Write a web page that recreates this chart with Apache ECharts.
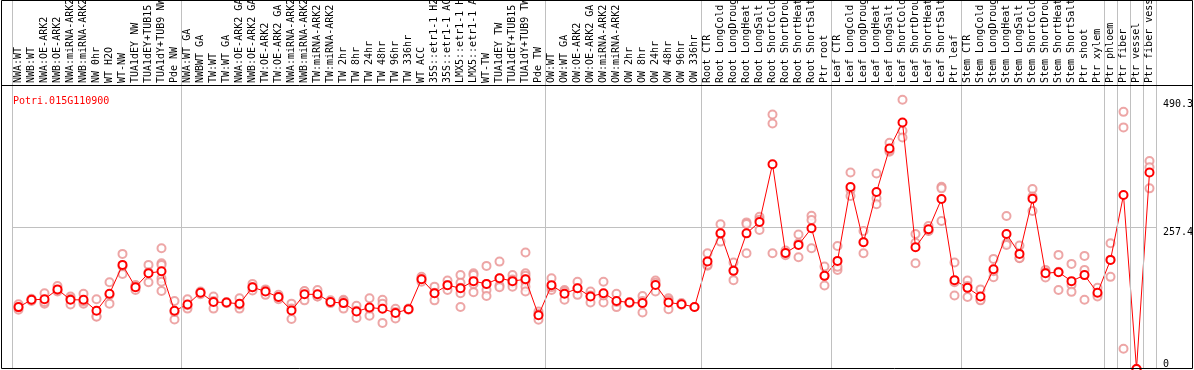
<!DOCTYPE html>
<html>
<head>
<meta charset="utf-8">
<script src="https://cdn.jsdelivr.net/npm/echarts@6/dist/echarts.min.js"></script>
<style>
html,body{margin:0;padding:0;background:#fff;}
#chart{width:1194px;height:370px;}
</style>
</head>
<body>
<div id="chart"></div>
<script>
const title = 'Potri.015G110900';

const categories = [
  'NWA:WT','NWB:WT','NWA:OE-ARK2','NWB:OE-ARK2','NWA:miRNA-ARK2','NWB:miRNA-ARK2','NW 0hr','WT H2O','WT-NW','TUA1dEY NW','TUA1dEY+TUB15 NW','TUA1dY+TUB9 NW','Pde NW',
  'NWA:WT GA','NWBWT GA','TW:WT','TW:WT GA','NWA:OE-ARK2 GA','NWB:OE-ARK2 GA','TW:OE-ARK2','TW:OE-ARK2 GA','NWA:miRNA-ARK2 GA','NWB:miRNA-ARK2 GA','TW:miRNA-ARK2','TW:miRNA-ARK2 GA',
  'TW 2hr','TW 8hr','TW 24hr','TW 48hr','TW 96hr','TW 336hr','WT ACC','35S::etr1-1 H2O','35S::etr1-1 ACC','LMX5::etr1-1 H2O','LMX5::etr1-1 ACC','WT-TW','TUA1dEY TW','TUA1dEY+TUB15 TW','TUA1dY+TUB9 TW','Pde TW',
  'OW:WT','OW:WT GA','OW:OE-ARK2','OW:OE-ARK2 GA','OW:miRNA-ARK2','OW:miRNA-ARK2 GA','OW 2hr','OW 8hr','OW 24hr','OW 48hr','OW 96hr','OW 336hr',
  'Root CTR','Root LongCold','Root LongDrought','Root LongHeat','Root LongSalt','Root ShortCold','Root ShortDrought','Root ShortHeat','Root ShortSalt','Ptr root',
  'Leaf CTR','Leaf LongCold','Leaf LongDrought','Leaf LongHeat','Leaf LongSalt','Leaf ShortCold','Leaf ShortDrought','Leaf ShortHeat','Leaf ShortSalt','Ptr leaf',
  'Stem CTR','Stem LongCold','Stem LongDrought','Stem LongHeat','Stem LongSalt','Stem ShortCold','Stem ShortDrought','Stem ShortHeat','Stem ShortSalt','Ptr shoot','Ptr xylem',
  'Ptr phloem','Ptr fiber','Ptr vessel','Ptr fiber vessel'
];

const means = [
  112.7,126,127,145,126,126,106,137,189.6,149,174.5,178,106,
  117.5,139,122,121,118.7,149,141,131,106.5,136,136,122,
  120,104.7,112,109.6,102,109,163.6,138,152.7,147,160,155,165.4,160,163.6,98,
  152.7,137,147,132,138,124,121,120,153,121,118,113,
  196,247,178.7,247,267.8,373,211.4,226,256.3,169.6,
  196.9,331.4,230.9,322.3,401.7,449,221.8,254.5,309.6,161.8,
  147.8,132,181.8,246,209.6,310,174.5,176.3,160,171,138.7,
  198.7,316.8,0,358
];

const replicates = [
  [118,108,112],[126,124,128],[138,119,122],[151,141,144],[132,117.5,128],[137,119,123],[127,96,95],[158,119,135],[209.6,173,187],[153,144,150],[189.6,158,176],[220,192.7,189.6,165,159,142],[124,90,104],
  [127,110,116],[141,136,140],[132,110,124],[122,120],[129,110,117],[155,143,149],[145,135,143],[135,127,131],[119,91,110],[141,125,142],[144,132,132],[125,120],
  [126,110,124],[115,93,106],[129,97,110],[126,84,119],[109.6,92,104],[110,108],[168,159,164],[150,125,139],[161,144,153],[171,157,148,138,113],[174.5,171,140,155],[187.8,144,133,155],[195.6,152,149,165],[171,156,150,163],[212,174.5,169.6,159,150,141,163],[104.7,89.6,100],
  [165.4,144,149],[144,126,141],[159,135,147],[141,121,134],[159,121,134],[137,112.7,122],[122,120],[133,103,124],[161,141,157],[129,109,125],[120,117],[113],
  [210.9,188,190],[263.6,232,246],[193.8,161.8,180],[267,264,210.9],[277.4,253.2,272],[463.6,447,210.9],[215.6,207,211],[245,203.6,229],[279,271.4,220],[186.5,152,170],
  [224,180.5,186],[358,326,315],[251.4,210.9,231],[356,311,300],[412,395.6,398],[490.3,433.7,421.7],[246,230,192.7],[260.5,251.4,252],[332,329,269.6],[193.8,133.8,158],
  [161,131,151],[145,126,125],[200.5,167,178],[278.7,229,226],[224.7,201.8,202],[327.8,287.8,314],[180.5,166.5,176],[207.8,144,177],[191.4,153,140.5],[206,180.5,126],[136,132,148],
  [229,167.8,199],[468.3,440,36.9],[0,0,0],[378.7,367.2,329]
];

// group boundaries (in category units) for vertical separators
const groupBoundaries = [0,13,41,53,63,73,84,85,86,87,88];

// right axis tick labels
const yTickTop = [257.4, 490.3];
const yTickBottom = [0];
const yGridLine = 257.4;
const yMax = 672;

const scatterData = [];
replicates.forEach((arr, i) => arr.forEach(v => scatterData.push([categories[i], v])));

const font = 'DejaVu Sans Mono';
const chart = echarts.init(document.getElementById('chart'), null, {renderer: 'canvas'});

chart.setOption({
  animation: false,
  backgroundColor: '#ffffff',
  title: {
    text: title, left: 8, top: 91,
    textStyle: {color: '#ff0000', fontFamily: font, fontSize: 10, fontWeight: 'normal'}
  },
  grid: {left: 12, right: 38, top: 0, bottom: 1, containLabel: false, outerBoundsMode: 'none'},
  xAxis: [
    {
      type: 'category', data: categories, position: 'top', offset: -85,
      boundaryGap: true,
      axisLine: {show: false}, axisTick: {show: false}, splitLine: {show: false},
      axisLabel: {rotate: 90, interval: 0, margin: 2, hideOverlap: false, fontFamily: font, fontSize: 10, color: '#000'}
    },
    {type: 'value', min: 0, max: groupBoundaries[groupBoundaries.length - 1], show: false}
  ],
  yAxis: [
    {
      type: 'value', min: 0, max: yMax, position: 'right',
      axisLine: {show: false}, axisTick: {show: false}, splitLine: {show: false},
      axisLabel: {customValues: yTickTop, margin: 7, verticalAlign: 'top', fontFamily: font, fontSize: 10, color: '#000'}
    },
    {
      type: 'value', min: 0, max: yMax, position: 'right',
      axisLine: {show: false}, axisTick: {show: false}, splitLine: {show: false},
      axisLabel: {customValues: yTickBottom, margin: 7, verticalAlign: 'bottom', fontFamily: font, fontSize: 10, color: '#000'}
    }
  ],
  series: [
    {
      type: 'line', xAxisIndex: 1, yAxisIndex: 0, data: [], silent: true,
      markLine: {
        silent: true, symbol: 'none', animation: false,
        label: {show: false},
        lineStyle: {color: '#c0c0c0', type: 'solid', width: 1},
        data: groupBoundaries.map(b => ({xAxis: b}))
      }
    },
    {
      type: 'scatter', xAxisIndex: 0, yAxisIndex: 0, data: scatterData,
      symbol: 'emptyCircle', symbolSize: 8, z: 3,
      itemStyle: {color: '#e89090', borderColor: '#e89090', borderWidth: 1.5}
    },
    {
      type: 'line', xAxisIndex: 0, yAxisIndex: 0, data: means, z: 4,
      symbol: 'emptyCircle', symbolSize: 8, showAllSymbol: true,
      lineStyle: {color: '#ff0000', width: 1},
      itemStyle: {color: '#ff0000', borderColor: '#e00000', borderWidth: 2},
      markLine: {
        silent: true, symbol: 'none', animation: false, z: 1,
        label: {show: false},
        lineStyle: {color: '#c0c0c0', type: 'solid', width: 1},
        data: [{yAxis: yGridLine}]
      }
    }
  ],
  graphic: [
    {type: 'rect', z: 100, silent: true, shape: {x: 1.5, y: 0.5, width: 1191, height: 368}, style: {fill: null, stroke: '#000', lineWidth: 1}},
    {type: 'line', z: 100, silent: true, shape: {x1: 1.5, y1: 85.5, x2: 1192.5, y2: 85.5}, style: {stroke: '#000', lineWidth: 1}}
  ]
});
</script>
</body>
</html>
